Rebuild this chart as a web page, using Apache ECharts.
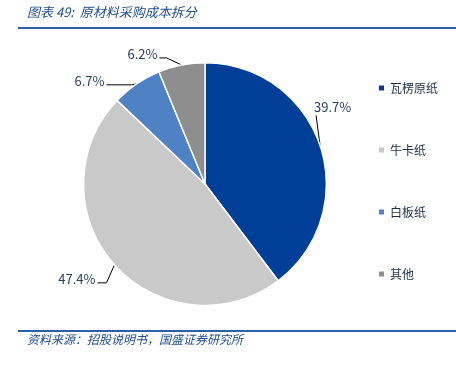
<!DOCTYPE html>
<html>
<head>
<meta charset="utf-8">
<script src="https://cdn.jsdelivr.net/npm/echarts@6/dist/echarts.min.js"></script>
<style>
html, body { margin: 0; padding: 0; background: #fff; }
#main { width: 456px; height: 365px; }
</style>
</head>
<body>
<div id="main"></div>
<script>
var categories = ['瓦楞原纸', '牛卡纸', '白板纸', '其他'];
var shares = [39.7, 47.4, 6.7, 6.2];
var colors = ['#003f98', '#c9c9c9', '#4f82c5', '#8e8e8e'];

var chart = echarts.init(document.getElementById('main'));

var pieData = [];
for (var i = 0; i < categories.length; i++) {
	pieData.push({ name: categories[i], value: shares[i] });
}

var font = '"Noto Sans CJK SC", "Noto Sans", sans-serif';

// 引线偏移（相对扇区边缘点）：[拐点dx, 拐点dy, 终点dx, 终点dy, 对齐]
var leaders = [
	[-4, -30, -4, -30, 'left'],
	[-8, 18, -17, 18, 'right'],
	[-5, 1, -30, 1, 'right'],
	[-15, -7, -22, -7, 'right']
];

var option = {
	animation: false,
	color: colors,
	graphic: [
		{
			type: 'text', left: 27, top: 6,
			style: { text: '图表 49:  原材料采购成本拆分', fill: '#1f4e8c', font: 'italic 13px ' + font }
		},
		{
			type: 'line', shape: { x1: 18, y1: 28, x2: 456, y2: 28 },
			style: { stroke: '#2e5fa8', lineWidth: 2 }
		},
		{
			type: 'line', shape: { x1: 18, y1: 331, x2: 456, y2: 331 },
			style: { stroke: '#2e5fa8', lineWidth: 2 }
		},
		{
			type: 'text', left: 27, top: 333,
			style: { text: '资料来源：招股说明书，国盛证券研究所', fill: '#1f4e8c', font: 'italic 12px ' + font }
		}
	],
	legend: {
		orient: 'vertical',
		left: 372,
		top: 77,
		itemWidth: 7,
		itemHeight: 7,
		itemGap: 50,
		icon: 'rect',
		textStyle: { color: '#1e2e48', fontSize: 12, fontFamily: font },
		data: categories
	},
	series: [{
		type: 'pie',
		center: [205, 184],
		radius: '66.5%',
		startAngle: 90,
		clockwise: true,
		itemStyle: { borderColor: '#fff', borderWidth: 1.5 },
		label: {
			formatter: '{c}%',
			color: '#2a3f66',
			fontSize: 13,
			fontFamily: font
		},
		labelLine: {
			show: true,
			length: 14,
			length2: 16,
			lineStyle: { color: '#000', width: 1 }
		},
		labelLayout: function (params) {
			var l = leaders[params.dataIndex];
			var p0 = params.labelLinePoints[0];
			var p1 = [p0[0] + l[0], p0[1] + l[1]];
			var p2 = [p0[0] + l[2], p0[1] + l[3]];
			var ly = l[4] === 'left' ? p2[1] - 8 : p2[1] - 4;
			return {
				x: p2[0] - 2,
				y: ly,
				align: l[4],
				verticalAlign: 'middle',
				labelLinePoints: [p0, p1, p2]
			};
		},
		data: pieData
	}]
};

chart.setOption(option);
</script>
</body>
</html>
